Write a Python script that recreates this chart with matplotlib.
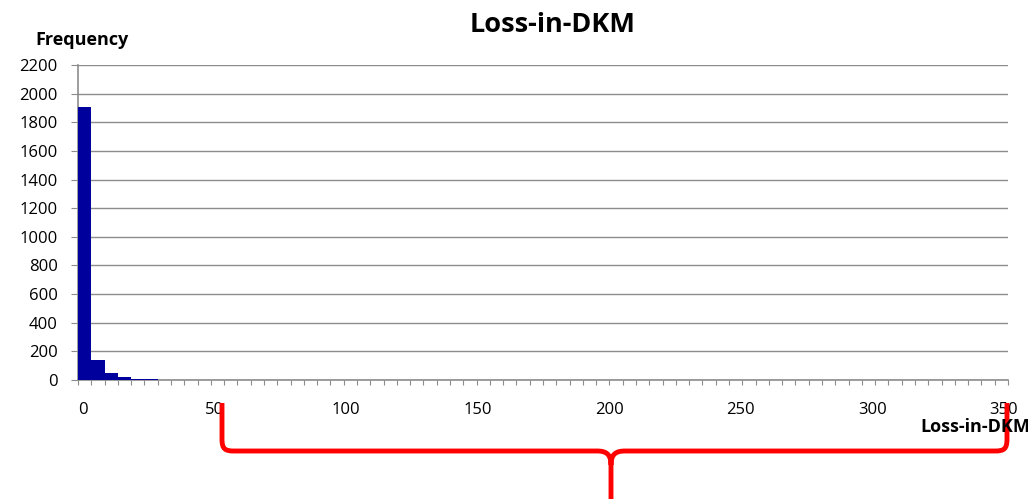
import numpy as np
import matplotlib.pyplot as plt
from matplotlib.path import Path
from matplotlib.patches import PathPatch

plt.rcParams['font.family'] = ['Open Sans', 'DejaVu Sans']

bin_width = 5
bin_starts = np.arange(0, 350, bin_width)
counts = np.zeros(len(bin_starts))
counts[:6] = [1910, 142, 47, 19, 7, 4]

y_ticks = list(range(0, 2201, 200))
x_labels = [0, 50, 100, 150, 200, 250, 300, 350]

W, H = 1028, 499
fig = plt.figure(figsize=(W / 100, H / 100), dpi=100)
ax = fig.add_axes([78 / W, 1 - 380 / H, 930 / W, 315 / H])

ax.bar(bin_starts, counts, width=bin_width, align='edge', color='#00009c', linewidth=0, zorder=3)

ax.set_xlim(0, 350)
ax.set_ylim(0, 2200)
ax.set_yticks(y_ticks)
ax.yaxis.grid(True, color='#8c8c8c', linewidth=1)
ax.set_axisbelow(True)
ax.set_xticks(np.arange(0, 351, bin_width))
ax.set_xticklabels([])
ax.tick_params(axis='x', length=3.6, color='#8c8c8c', direction='out')
ax.tick_params(axis='y', length=5, color='#8c8c8c', labelsize=12, pad=9.5)
for s in ['top', 'right']:
    ax.spines[s].set_visible(False)
for s in ['left', 'bottom']:
    ax.spines[s].set_color('#8c8c8c')
    ax.spines[s].set_linewidth(1.2)

for v in x_labels:
    ax.text(v + 1.9 - v * 0.0097, -240, str(v), ha='center', va='baseline', fontsize=12)

fig.text(553 / W, 1 - 32 / H, 'Loss-in-DKM', ha='center', va='baseline',
         fontsize=19.5, fontweight='bold')
fig.text(35 / W, 1 - 45 / H, 'Frequency', ha='left', va='baseline',
         fontsize=13, fontweight='bold')
fig.text(920 / W, 1 - 432 / H, 'Loss-in-DKM', ha='left', va='baseline',
         fontsize=13, fontweight='bold')

# red curly brace under the axis
def p(x, y):
    return (x / W, 1 - y / H)
x0, x1, xm = 222, 1007, 611
ytop, yh, ytip = 403, 451, 499
C4 = Path.CURVE4
verts = [p(x0, ytop), p(x0, yh - 12),
         p(x0, yh - 2), p(x0 + 3, yh), p(x0 + 12, yh),
         p(xm - 14, yh),
         p(xm - 5, yh), p(xm, yh + 3), p(xm, yh + 14),
         p(xm, ytip),
         p(xm, yh + 14),
         p(xm, yh + 3), p(xm + 5, yh), p(xm + 14, yh),
         p(x1 - 12, yh),
         p(x1 - 3, yh), p(x1, yh - 2), p(x1, yh - 12),
         p(x1, ytop)]
codes = [Path.MOVETO, Path.LINETO,
         C4, C4, C4,
         Path.LINETO,
         C4, C4, C4,
         Path.LINETO,
         Path.MOVETO,
         C4, C4, C4,
         Path.LINETO,
         C4, C4, C4,
         Path.LINETO]
fig.patches.append(PathPatch(Path(verts, codes), transform=fig.transFigure,
                             facecolor='none', edgecolor='#ff0000', linewidth=3.5,
                             capstyle='butt', joinstyle='round'))

fig.savefig('out.png', dpi=100)
